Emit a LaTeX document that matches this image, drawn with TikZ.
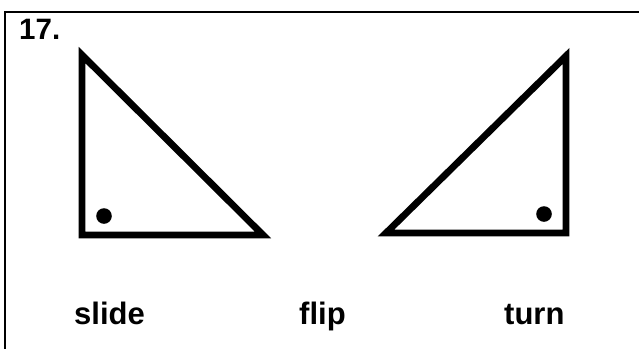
\documentclass[tikz,border=0pt]{standalone}
\usepackage{fontspec}
\setmainfont{Liberation Sans}
\usepackage{tikz}
\usetikzlibrary{positioning}

\begin{document}
\begin{tikzpicture}[
    x=1pt, y=-1pt,
    frame/.style={line width=2.5pt},
    tri/.style={line width=6.8pt, line join=miter},
    dotmark/.style={fill=black},
    word/.style={anchor=base west, inner sep=0pt, font=\fontsize{31}{36}\selectfont\bfseries}
]
    \useasboundingbox (0,0) rectangle (639,349);

    % frame (top and left edges)
    \draw[frame] (639,12) -- (5,12) -- (5,349);
    \node[word, font=\fontsize{29.5}{34}\selectfont\bfseries] (num) at (19,39) {17.};

    % left triangle
    \draw[tri] (82,55) -- (82,235) -- (263,235) -- cycle;
    \fill[dotmark] (104,216) circle (7.8);

    % right triangle
    \draw[tri] (566,56) -- (566,233) -- (386,233) -- cycle;
    \fill[dotmark] (544,214) circle (7.8);

    % labels
    \node[word] (slide) at (74,324) {slide};
    \node[word] (flip) at (299,324) {flip};
    \node[word] (turn) at (504,324) {turn};
\end{tikzpicture}
\end{document}
